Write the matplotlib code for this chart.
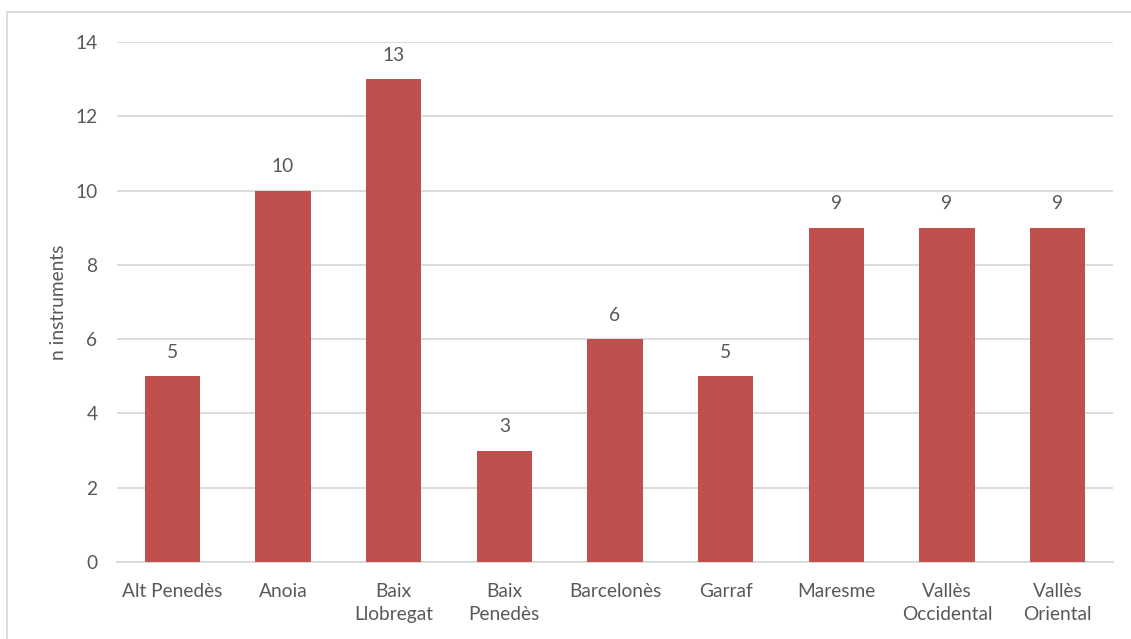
import matplotlib
matplotlib.use("Agg")
import matplotlib.pyplot as plt
from matplotlib.patches import Rectangle

comarques = ["Alt Penedès", "Anoia", "Baix\nLlobregat", "Baix\nPenedès", "Barcelonès",
             "Garraf", "Maresme", "Vallès\nOccidental", "Vallès\nOriental"]
n_instruments = [5, 10, 13, 3, 6, 5, 9, 9, 9]
y_ticks = [0, 2, 4, 6, 8, 10, 12, 14]

bar_color = "#C0504D"
text_color = "#595959"
grid_color = "#D9D9D9"
fsize = 13.8

plt.rcParams["font.family"] = ["Lato", "DejaVu Sans"]

W, H = 1131, 639
fig = plt.figure(figsize=(W / 100, H / 100), dpi=100)
ax = fig.add_axes([117 / W, 1 - 562 / H, (1113 - 117) / W, (562 - 42) / H])

x = range(len(comarques))
bars = ax.bar(x, n_instruments, width=0.5, color=bar_color, zorder=3)
for rect, v in zip(bars, n_instruments):
    ax.annotate(str(v), (rect.get_x() + rect.get_width() / 2, v),
                xytext=(0, 11), textcoords="offset points",
                ha="center", va="bottom", fontsize=fsize, color=text_color)

ax.set_xlim(-0.5, len(comarques) - 0.5)
ax.set_ylim(0, 14)
ax.set_yticks(y_ticks)
ax.set_xticks(list(x))
ax.set_xticklabels(comarques, linespacing=1.45)
ax.tick_params(axis="both", length=0, labelsize=fsize, labelcolor=text_color)
ax.tick_params(axis="y", pad=14)
ax.tick_params(axis="x", pad=15)
ax.grid(axis="y", color=grid_color, linewidth=1.3, zorder=0)
for side in ["top", "right", "left"]:
    ax.spines[side].set_visible(False)
ax.spines["bottom"].set_color(grid_color)
ax.spines["bottom"].set_linewidth(1.3)
ax.set_ylabel("n instruments", fontsize=fsize, color=text_color, labelpad=6)

# chart frame
fig.patches.append(Rectangle((7 / W, -0.05), 1.2, 1 - 12 / H + 0.05,
                             transform=fig.transFigure, fill=False,
                             edgecolor="#D9D9D9", linewidth=1.3))

fig.savefig("out.png", dpi=100)
